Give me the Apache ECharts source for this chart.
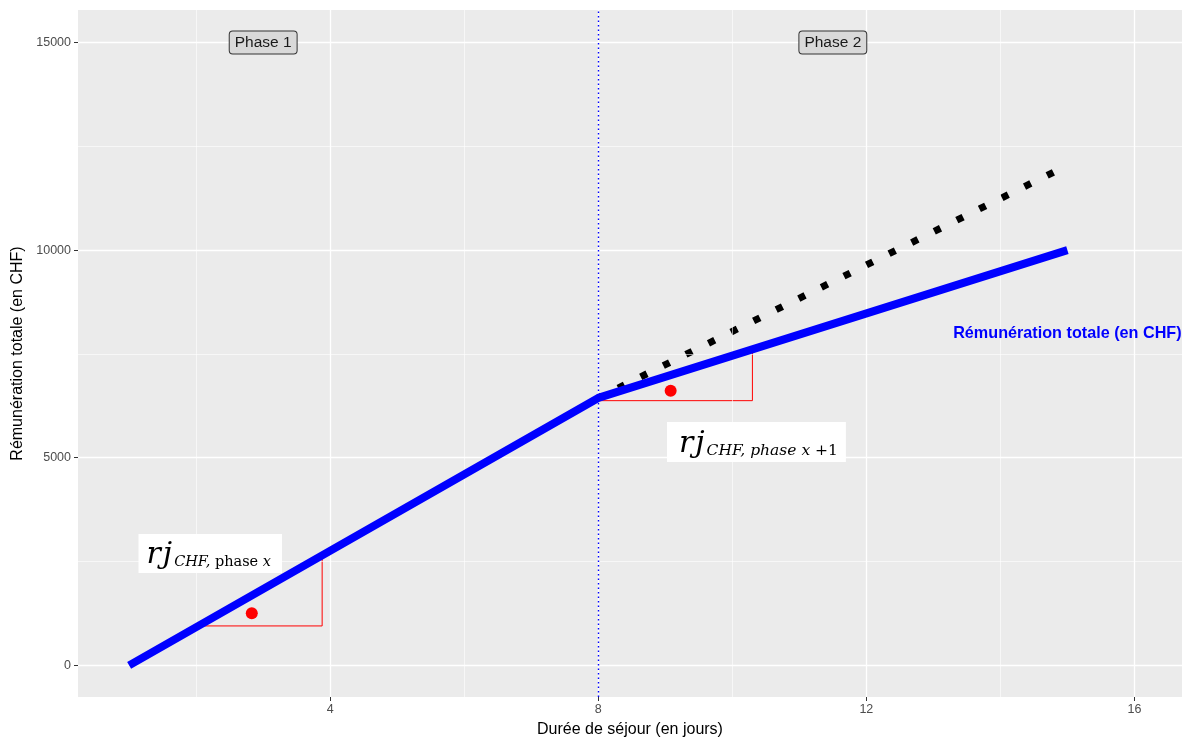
<!DOCTYPE html>
<html><head><meta charset="utf-8">
<script src="https://cdn.jsdelivr.net/npm/echarts@6/dist/echarts.min.js"></script>
<style>html,body{margin:0;padding:0;background:#fff}#c{width:1182px;height:737px}</style>
</head><body><div id="c"></div>
<script>
// ---- data ----
const xTicks = [4, 8, 12, 16];
const xMinor = [2, 6, 10, 14];
const yTicks = [0, 5000, 10000, 15000];
const yMinor = [2500, 7500, 12500];
const totalX = [1, 8, 15];
const totalY = [0, 6440, 10000];
const contX = [8, 15];
const contY = [6440, 12040];
const phaseBreak = 8;
const tri1X = [2.09, 3.88, 3.88];
const tri1Y = [950, 950, 2710];
const tri2X = [8.02, 10.30, 10.30];
const tri2Y = [6374, 6374, 7570];
const dotX = [2.83, 9.08];
const dotY = [1254, 6614];
const phaseNames = ['Phase 1', 'Phase 2'];
const phaseX = [3.0, 11.5];
const phaseY = [15000, 15000];
const seriesLabel = 'Rémunération totale (en CHF)';
const seriesLabelPos = [15, 8000];
const mathPos = [[2.21, 2694], [10.36, 5379]];

const zip = (a, b) => a.map((v, i) => [v, b[i]]);
const chart = echarts.init(document.getElementById('c'), null, {renderer: 'canvas'});
const serif = "'DejaVu Serif','Liberation Serif',serif";
const base = {fontFamily: serif, color: '#000', verticalAlign: 'bottom'};
const richMath = {
  r: Object.assign({}, base, {fontStyle: 'italic', fontSize: 30, lineHeight: 33, padding: [0, 2, 0, 0]}),
  j: Object.assign({}, base, {fontStyle: 'italic', fontSize: 30, lineHeight: 33, padding: [0, 2, 0, 0]}),
  si: Object.assign({}, base, {fontStyle: 'italic', fontSize: 14.5, lineHeight: 17}),
  sn: Object.assign({}, base, {fontSize: 14.5, lineHeight: 17}),
  si2: Object.assign({}, base, {fontStyle: 'italic', fontSize: 15.5, lineHeight: 17}),
  sn2: Object.assign({}, base, {fontSize: 15.5, lineHeight: 17})
};
const numFmt = v => String(v);
const option = {
  animation: false,
  backgroundColor: '#fff',
  textStyle: {fontFamily: "'Liberation Sans', Arial, sans-serif"},
  grid: {left: 78, right: 0, top: 10, bottom: 40, show: true, backgroundColor: '#ebebeb', borderWidth: 0, z: 0,
         containLabel: false, outerBoundsMode: 'none'},
  xAxis: {
    type: 'value', min: 0.237, max: 16.71,
    name: 'Durée de séjour (en jours)', nameLocation: 'middle', nameGap: 25,
    nameTextStyle: {fontSize: 16, color: '#000'},
    axisLine: {show: false, onZero: false},
    axisTick: {show: true, customValues: xTicks, length: 4, lineStyle: {color: '#333', width: 1}},
    axisLabel: {customValues: xTicks, formatter: numFmt, color: '#4d4d4d', fontSize: 12.5, margin: 6},
    splitLine: {show: true, lineStyle: {color: '#fff', width: 1.3}}
  },
  yAxis: {
    type: 'value', min: -761, max: 15780,
    name: 'Rémunération totale (en CHF)', nameLocation: 'middle', nameGap: 47,
    nameTextStyle: {fontSize: 16, color: '#000'},
    axisLine: {show: false, onZero: false},
    axisTick: {show: true, customValues: yTicks, length: 4, lineStyle: {color: '#333', width: 1}},
    axisLabel: {customValues: yTicks, formatter: numFmt, color: '#4d4d4d', fontSize: 12.5, margin: 7},
    splitLine: {show: true, lineStyle: {color: '#fff', width: 1.3}}
  },
  series: [
    {
      type: 'line', data: [], silent: true, z: 1,
      markLine: {
        silent: true, symbol: 'none', label: {show: false},
        lineStyle: {color: '#fff', width: 0.6, type: 'solid'},
        data: xMinor.map(v => ({xAxis: v})).concat(yMinor.map(v => ({yAxis: v})))
      }
    },
    {
      type: 'line', data: [], silent: true, z: 2,
      markLine: {
        silent: true, symbol: 'none', label: {show: false},
        lineStyle: {color: '#0000ff', width: 1.4, type: [1.5, 3]},
        data: [{xAxis: phaseBreak}]
      }
    },
    {
      type: 'line', data: zip(tri1X, tri1Y), showSymbol: false, silent: true, z: 3,
      lineStyle: {color: '#ff0000', width: 1}
    },
    {
      type: 'line', data: zip(tri2X, tri2Y), showSymbol: false, silent: true, z: 3,
      lineStyle: {color: '#ff0000', width: 1}
    },
    {
      type: 'line', data: zip(contX, contY), showSymbol: false, silent: true, z: 4,
      lineStyle: {color: '#000', width: 7, type: [7, 18.2], cap: 'butt', dashOffset: 3}
    },
    {
      type: 'line', data: zip(totalX, totalY), showSymbol: false, silent: true, z: 5,
      lineStyle: {color: '#0000ff', width: 8, cap: 'butt', join: 'round'}
    },
    {
      type: 'scatter', data: zip(dotX, dotY), symbolSize: 12, silent: true, z: 6,
      itemStyle: {color: '#ff0000', opacity: 1}
    },
    {
      type: 'scatter', symbolSize: 0, silent: true, z: 7,
      itemStyle: {opacity: 1},
      data: phaseNames.map((n, i) => ({value: [phaseX[i], phaseY[i]], name: n})),
      label: {
        show: true, position: 'inside', formatter: p => p.name,
        fontSize: 15.5, lineHeight: 17, color: '#1a1a1a', backgroundColor: '#d9d9d9',
        borderColor: '#333', borderWidth: 1, borderRadius: 3, padding: [3, 5, 2, 5]
      }
    },
    {
      type: 'scatter', symbolSize: 0, silent: true, z: 7,
      itemStyle: {opacity: 1},
      data: [{value: seriesLabelPos, name: seriesLabel}],
      label: {show: true, position: 'inside', formatter: p => p.name, fontSize: 16.2, fontWeight: 'bold', color: '#0000ff'}
    },
    {
      type: 'scatter', symbolSize: 0, silent: true, z: 7,
      itemStyle: {opacity: 1},
      data: [
        {value: mathPos[0], label: {formatter: '{r|r}{j|j}{si|CHF,}{sn| phase }{si|x}', padding: [3, 11, 3, 8]}},
        {value: mathPos[1], label: {formatter: '{r|r}{j|j}{si2|CHF, phase x}{sn2| +1}', padding: [4, 8, 3, 12]}}
      ],
      label: {
        show: true, position: 'inside', backgroundColor: '#fff',
        rich: richMath
      }
    }
  ]
};
chart.setOption(option);
</script>
</body></html>
